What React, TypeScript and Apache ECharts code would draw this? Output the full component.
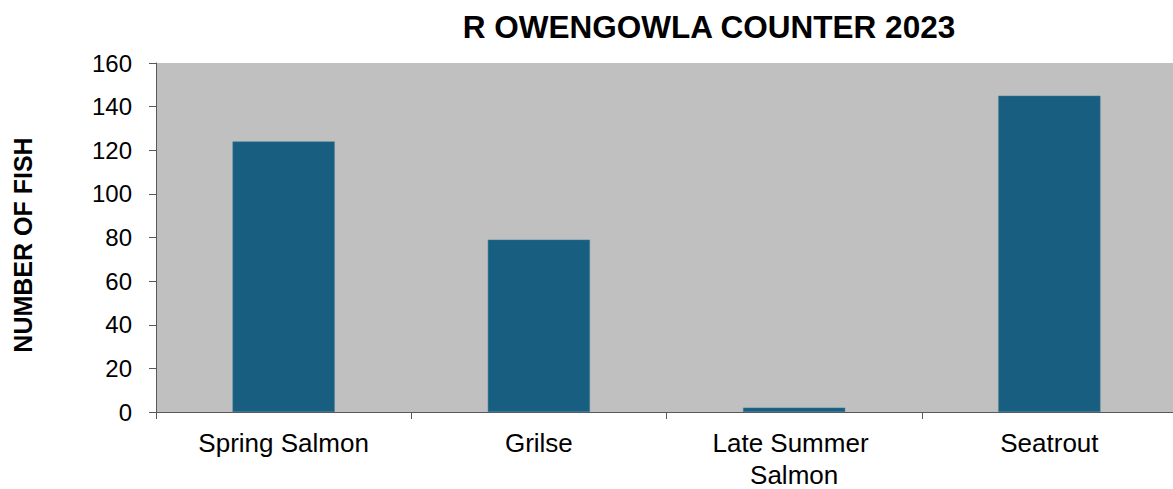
import React, { useEffect, useRef } from "react";
import * as echarts from "echarts";

const categories = ["Spring Salmon", "Grilse", "Late Summer Salmon", "Seatrout"];
const fishCounts = [124, 79, 2, 145];
const chartTitle = "R OWENGOWLA COUNTER 2023";
const yAxisName = "NUMBER OF FISH";

export default function App() {
  const ref = useRef<HTMLDivElement>(null);
  useEffect(() => {
    if (!ref.current) return;
    const chart = echarts.init(ref.current, null, { renderer: "svg" });
    const font = "'Liberation Sans', Arial, sans-serif";
    chart.setOption({
      animation: false,
      textStyle: { fontFamily: font },
      title: {
        text: chartTitle,
        left: 704,
        top: 6,
        textAlign: "center",
        textStyle: { fontFamily: font, fontSize: 31.5, fontWeight: "bold", color: "#000" },
      },
      graphic: [
        {
          type: "text",
          x: 23,
          y: 245,
          rotation: Math.PI / 2,
          style: {
            text: yAxisName,
            fill: "#000",
            font: `bold 25px ${font}`,
            textAlign: "center",
            textVerticalAlign: "middle",
          },
        },
      ],
      grid: {
        left: 156,
        right: -4,
        top: 63,
        bottom: 77,
        containLabel: false,
        outerBoundsMode: "none",
        show: true,
        backgroundColor: "#C0C0C0",
        borderWidth: 0,
      },
      xAxis: {
        type: "category",
        data: categories,
        axisLine: { show: true, lineStyle: { color: "#595959", width: 1 } },
        axisTick: { show: true, length: 7, lineStyle: { color: "#595959" } },
        axisLabel: {
          color: "#000",
          fontSize: 26,
          fontFamily: font,
          margin: 15,
          lineHeight: 32,
          width: 220,
          overflow: "break",
          interval: 0,
        },
      },
      yAxis: {
        type: "value",
        min: 0,
        max: 160,
        interval: 20,
        axisLine: { show: true, lineStyle: { color: "#595959", width: 1 } },
        axisTick: { show: true, length: 7, lineStyle: { color: "#595959" } },
        splitLine: { show: false },
        axisLabel: { color: "#000", fontSize: 24, fontFamily: font, margin: 24 },
      },
      series: [
        {
          type: "bar",
          data: fishCounts,
          barWidth: "40%",
          itemStyle: { color: "#175E80", borderColor: "#3F7A96", borderWidth: 0.5 },
        },
      ],
    });
    return () => chart.dispose();
  }, []);
  return (
    <div
      ref={ref}
      style={{ position: "fixed", left: 0, top: 0, width: 1173, height: 489, background: "#fff" }}
    />
  );
}
